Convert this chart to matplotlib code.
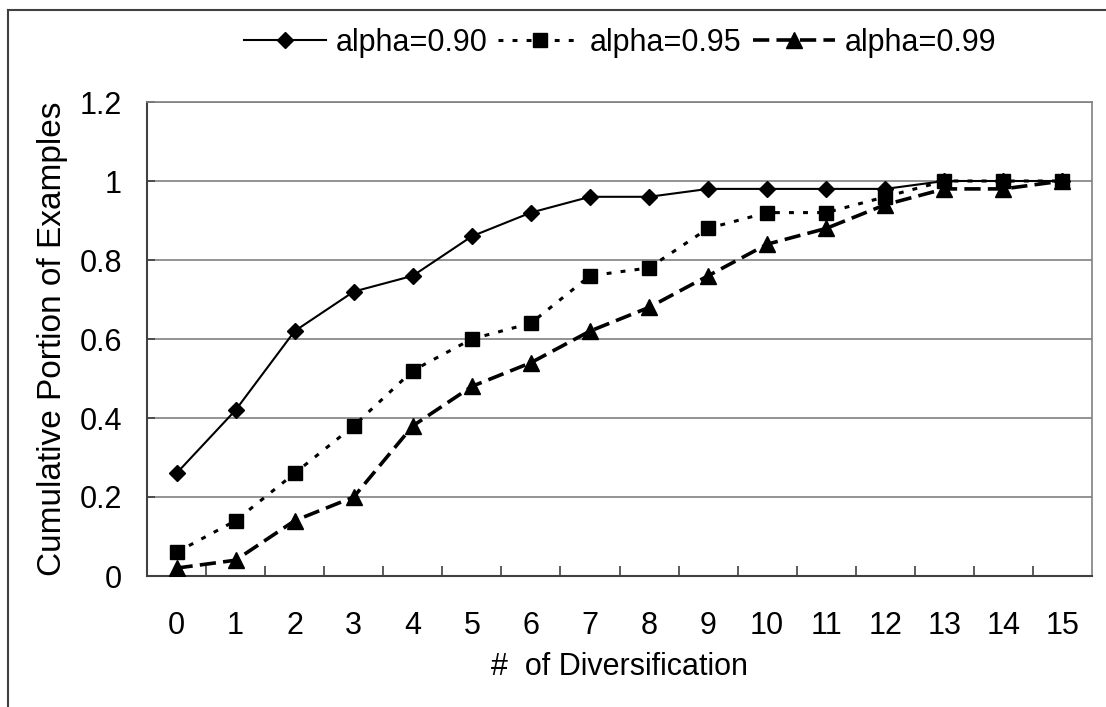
import matplotlib
matplotlib.use("Agg")
import matplotlib.pyplot as plt
from matplotlib.lines import Line2D

plt.rcParams['font.family'] = ['Liberation Sans', 'DejaVu Sans']

categories = list(range(16))
a090 = [0.26, 0.42, 0.62, 0.72, 0.76, 0.86, 0.92, 0.96, 0.96, 0.98, 0.98, 0.98, 0.98, 1.0, 1.0, 1.0]
a095 = [0.06, 0.14, 0.26, 0.38, 0.52, 0.60, 0.64, 0.76, 0.78, 0.88, 0.92, 0.92, 0.96, 1.0, 1.0, 1.0]
a099 = [0.02, 0.04, 0.14, 0.20, 0.38, 0.48, 0.54, 0.62, 0.68, 0.76, 0.84, 0.88, 0.94, 0.98, 0.98, 1.0]
labels = ["alpha=0.90", "alpha=0.95", "alpha=0.99"]
yticks = [0, 0.2, 0.4, 0.6, 0.8, 1, 1.2]
ytick_labels = ["0", "0.2", "0.4", "0.6", "0.8", "1", "1.2"]

W, H = 1106, 707
FS = 22
fig = plt.figure(figsize=(W / 100, H / 100), dpi=100)
fig.patch.set_facecolor('white')

# outer chart border (extends beyond right/bottom edges)
fig.add_artist(Line2D([8 / W, 8 / W], [1 - 10 / H, -0.1], transform=fig.transFigure,
                      color='#404040', lw=1.5))
fig.add_artist(Line2D([8 / W, 1.1], [1 - 10 / H, 1 - 10 / H], transform=fig.transFigure,
                      color='#404040', lw=1.5))

left, right, top, bottom = 147, 1092, 102, 576
ax = fig.add_axes([left / W, 1 - bottom / H, (right - left) / W, (bottom - top) / H])

ax.plot(categories, a090, color='black', lw=1.5, ls='-', marker='D', ms=8.5,
        label=labels[0], zorder=3)
ax.plot(categories, a095, color='black', lw=2.2, ls=(0, (1.6, 3.0)), marker='s', ms=9.5,
        label=labels[1], zorder=3)
ax.plot(categories, a099, color='black', lw=2.6, ls=(0, (4.5, 2.0)), marker='^', ms=11,
        label=labels[2], zorder=3)

ax.set_xlim(-0.5, 15.5)
ax.set_ylim(0, 1.2)
ax.set_yticks(yticks)
ax.set_yticklabels(ytick_labels)
ax.set_xticks(categories)
ax.set_xticklabels([str(c) for c in categories])
ax.set_xticks([c + 0.5 for c in categories[:-1]], minor=True)
ax.tick_params(axis='x', which='major', length=0, pad=25, labelsize=FS)
ax.tick_params(axis='x', which='minor', direction='in', length=7, width=1.2, color='#404040')
ax.tick_params(axis='y', which='major', direction='in', length=6, width=1.2, color='#404040',
               pad=18, labelsize=FS)

ax.grid(axis='y', color='#808080', lw=1.2)
ax.set_axisbelow(True)
for s in ['top', 'right']:
    ax.spines[s].set_color('#808080')
    ax.spines[s].set_linewidth(1.2)
for s in ['left', 'bottom']:
    ax.spines[s].set_color('#404040')
    ax.spines[s].set_linewidth(1.5)

ax.set_xlabel("#  of Diversification", fontsize=FS, labelpad=8)
ax.set_ylabel("Cumulative Portion of Examples", fontsize=24, labelpad=8)

fig.legend(loc='center', bbox_to_anchor=(620 / W, 1 - 43 / H), ncol=3, frameon=False,
           fontsize=FS, handlelength=2.7, handletextpad=0.3, columnspacing=0.36,
           numpoints=1)

fig.savefig("out.png", dpi=100, facecolor='white')
